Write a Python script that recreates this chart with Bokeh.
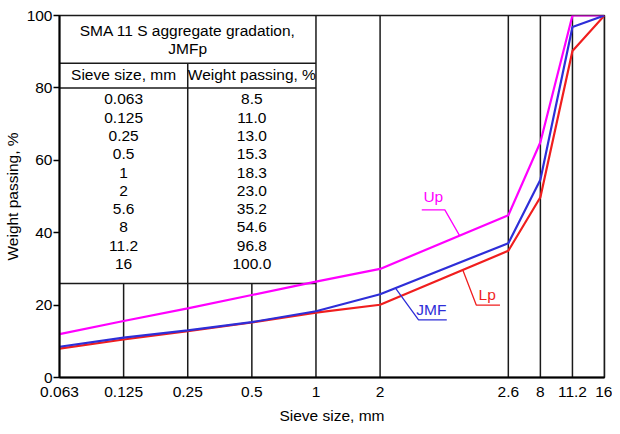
import numpy as np
from bokeh.plotting import figure
from bokeh.models import Range1d, FixedTicker
from bokeh.core.properties import value
from bokeh.embed import file_html
from bokeh.resources import INLINE

# ---------------- data ----------------
tick_labels = ["0.063", "0.125", "0.25", "0.5", "1", "2", "2.6", "8", "11.2", "16"]
tick_pos = [0, 1, 2, 3, 4, 5, 7, 7.5, 8, 8.5]  # sieve-axis scale positions

up = [12.0, 15.6, 19.1, 22.8, 26.5, 30.0, 44.8, 65.0, 100.0, 100.0]
jmf = [8.5, 11.0, 13.0, 15.3, 18.3, 23.0, 37.1, 54.6, 96.8, 100.0]
lp = [8.0, 10.5, 12.8, 15.2, 17.9, 20.1, 35.0, 49.8, 90.2, 100.0]

table_title = ["SMA 11 S aggregate gradation,", "JMFp"]
table_headers = ["Sieve size, mm", "Weight passing, %"]
table_sieves = ["0.063", "0.125", "0.25", "0.5", "1", "2", "5.6", "8", "11.2", "16"]
table_passing = ["8.5", "11.0", "13.0", "15.3", "18.3", "23.0", "35.2", "54.6", "96.8", "100.0"]

# ---------------- styles ----------------
FONT = "Liberation Sans"
FS = "15.5px"
C_UP = "#FF00FF"
C_JMF = "#2E2ED8"
C_LP = "#F01E1E"
GRID = "#1a1a1a"

p = figure(width=612, height=426, output_backend="svg", toolbar_location=None,
           x_range=Range1d(0, 8.5), y_range=Range1d(0, 100),
           min_border_left=55, min_border_right=8, min_border_top=15, min_border_bottom=46)
p.xgrid.visible = False
p.ygrid.visible = False
p.outline_line_color = GRID
p.outline_line_width = 1.5
p.background_fill_color = "white"
p.border_fill_color = "white"

# axes
p.xaxis.ticker = FixedTicker(ticks=tick_pos)
p.xaxis.major_label_overrides = {t: l for t, l in zip(tick_pos, tick_labels)}
p.xaxis.major_tick_out = 0
p.xaxis.major_tick_in = 0
p.xaxis.minor_tick_out = 0
p.xaxis.minor_tick_in = 0
p.xaxis.major_label_standoff = 9
p.xaxis.axis_label = "Sieve size, mm"
p.xaxis.axis_label_standoff = 7

p.yaxis.ticker = FixedTicker(ticks=[0, 20, 40, 60, 80, 100])
p.yaxis.major_tick_out = 6
p.yaxis.major_tick_in = 0
p.yaxis.minor_tick_out = 0
p.yaxis.minor_tick_in = 0
p.yaxis.major_label_standoff = 1
p.yaxis.axis_label = "Weight passing, %"
p.yaxis.axis_label_standoff = 3

for ax in (p.xaxis[0], p.yaxis[0]):
    ax.axis_line_color = "black"
    ax.axis_line_width = 2
    ax.major_tick_line_color = "black"
    ax.major_tick_line_width = 1.5
    ax.major_label_text_font = FONT
    ax.major_label_text_font_size = FS
    ax.major_label_text_color = "black"
    ax.axis_label_text_font = FONT
    ax.axis_label_text_font_size = FS
    ax.axis_label_text_font_style = "normal"
    ax.axis_label_text_color = "black"

# ---------------- table / grid layout ----------------
table_bottom = 26.0
header_bottom = 80.0
title_bottom = 86.8
table_right = tick_pos[4]

# vertical grid lines (short ones under the table, full ones elsewhere)
full_x = [tick_pos[2], tick_pos[4]] + tick_pos[5:]
short_x = [tick_pos[1], tick_pos[3]]
p.segment(x0=full_x, y0=[0] * len(full_x), x1=full_x,
          y1=[title_bottom] + [100] * (len(full_x) - 1),
          line_color=GRID, line_width=1.5)
p.segment(x0=short_x, y0=[0, 0], x1=short_x, y1=[table_bottom] * 2,
          line_color=GRID, line_width=1.5)
# table horizontal rules
hy = [table_bottom, header_bottom, title_bottom]
p.segment(x0=[0] * 3, y0=hy, x1=[table_right] * 3, y1=hy, line_color=GRID, line_width=1.5)

# table text
def txt(x, y, s, color="black"):
    p.text(x=x, y=y, text=s, text_font=value(FONT), text_font_size=value(FS),
           text_align="center", text_baseline="middle", text_color=color)

txt([table_right / 2] * 2, [95.9, 91.0], table_title)
txt([tick_pos[1], tick_pos[3]], [83.6, 83.6], table_headers)
row_y = [76.8 - 5.05 * i for i in range(len(table_sieves))]
txt([tick_pos[1]] * len(table_sieves), row_y, table_sieves)
txt([tick_pos[3]] * len(table_passing), row_y, table_passing)

# ---------------- series ----------------
p.line(tick_pos, up, line_color=C_UP, line_width=2.2)
p.line(tick_pos, lp, line_color=C_LP, line_width=2.2)
p.line(tick_pos, jmf, line_color=C_JMF, line_width=2.2)

# ---------------- labels with leader lines ----------------
def leader(series, anchor_x, elbow_x, end_x, elbow_y, label, lx, ly, color):
    ay = float(np.interp(anchor_x, tick_pos, series))
    p.line([anchor_x, elbow_x, end_x], [ay, elbow_y, elbow_y], line_color=color, line_width=1.3)
    txt([lx], [ly], [label], color)

leader(up, 6.24, 6.01, 5.65, 46.3, "Up", 5.83, 50.0, C_UP)
leader(lp, 6.29, 6.50, 6.87, 20.0, "Lp", 6.67, 23.0, C_LP)
leader(jmf, 5.24, 5.60, 6.04, 15.9, "JMF", 5.80, 18.8, C_JMF)

open("out.html", "w").write(file_html(p, INLINE))
